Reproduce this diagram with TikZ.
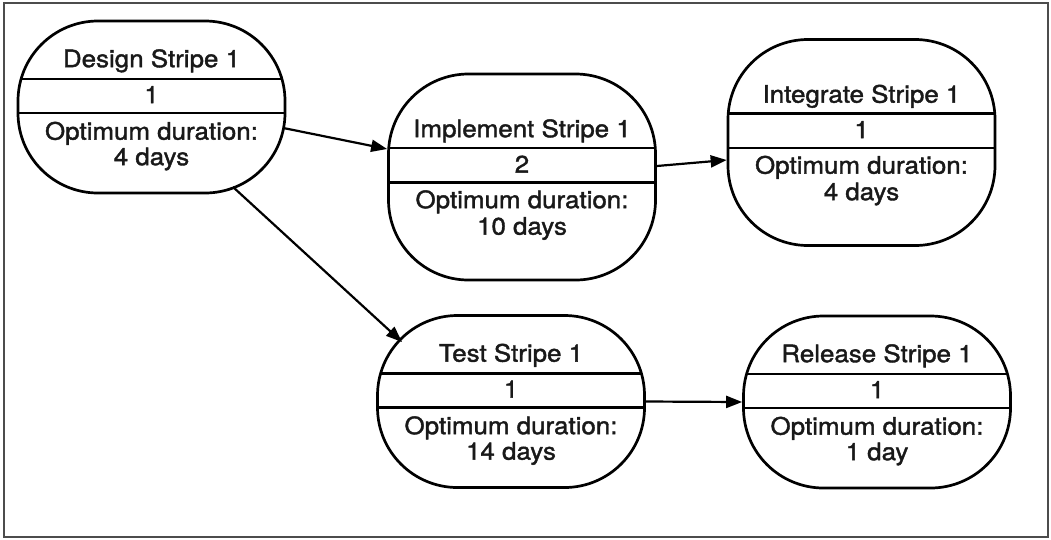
\documentclass[tikz,border=0pt]{standalone}
\usepackage{fontspec}
\setmainfont[FakeStretch=1.08,FakeBold=1.6]{TeX Gyre Heros}
\usetikzlibrary{arrows.meta}
\tikzset{
  frame/.style={draw=black!70, line width=1.3pt},
  box/.style={draw, line width=2.7pt, rounded corners=80pt, inner sep=0pt,
    minimum width=267pt},
  divider/.style={line width=2.4pt},
  shortbox/.style={box, minimum height=172pt,
    path picture={\draw[divider]
      ([yshift=-58pt]path picture bounding box.north west) -- ([yshift=-58pt]path picture bounding box.north east)
      ([yshift=-92pt]path picture bounding box.north west) -- ([yshift=-92pt]path picture bounding box.north east);}},
  tallbox/.style={box, minimum height=206pt,
    path picture={\draw[divider]
      ([yshift=-74pt]path picture bounding box.north west) -- ([yshift=-74pt]path picture bounding box.north east)
      ([yshift=-108.5pt]path picture bounding box.north west) -- ([yshift=-108.5pt]path picture bounding box.north east);}},
  lbl/.style={anchor=base, inner sep=0pt, text=black!90, font=\fontsize{24}{26}\selectfont},
  conn/.style={line width=2.2pt, -{Triangle[length=16pt,width=12pt]}},
}
\begin{document}
\begin{tikzpicture}[x=1pt,y=-1pt]
\useasboundingbox (0,0) rectangle (1051,539);
\draw[frame] (4,3) rectangle (1048,537);

% boxes
\node[shortbox] (design) at (151.5,107) {};
\node[tallbox] (implement) at (522,177) {};
\node[tallbox] (integrate) at (861.5,142.5) {};
\node[shortbox] (test) at (511,401.5) {};
\node[shortbox] (release) at (877,402) {};

% texts: short boxes
\node[lbl] (design1) at ([yshift=-47.5pt]design.north) {Design Stripe 1};
\node[lbl] (design2) at ([yshift=-83.5pt]design.north) {1};
\node[lbl] (design3) at ([yshift=-120pt]design.north) {Optimum duration:};
\node[lbl] (design4) at ([yshift=-145.5pt]design.north) {4 days};

\node[lbl] (test1) at ([yshift=-47.5pt]test.north) {Test Stripe 1};
\node[lbl] (test2) at ([yshift=-83.5pt]test.north) {1};
\node[lbl] (test3) at ([yshift=-120pt]test.north) {Optimum duration:};
\node[lbl] (test4) at ([yshift=-145.5pt]test.north) {14 days};

\node[lbl] (release1) at ([yshift=-47.5pt]release.north) {Release Stripe 1};
\node[lbl] (release2) at ([yshift=-83.5pt]release.north) {1};
\node[lbl] (release3) at ([yshift=-120pt]release.north) {Optimum duration:};
\node[lbl] (release4) at ([yshift=-145.5pt]release.north) {1 day};

% texts: tall boxes
\node[lbl] (implement1) at ([yshift=-64.5pt]implement.north) {Implement Stripe 1};
\node[lbl] (implement2) at ([yshift=-100pt]implement.north) {2};
\node[lbl] (implement3) at ([yshift=-135.5pt]implement.north) {Optimum duration:};
\node[lbl] (implement4) at ([yshift=-162pt]implement.north) {10 days};

\node[lbl] (integrate1) at ([yshift=-64.5pt]integrate.north) {Integrate Stripe 1};
\node[lbl] (integrate2) at ([yshift=-100pt]integrate.north) {1};
\node[lbl] (integrate3) at ([yshift=-135.5pt]integrate.north) {Optimum duration:};
\node[lbl] (integrate4) at ([yshift=-162pt]integrate.north) {4 days};

% connectors
\draw[conn] ([shift={(-3,21)}]design.east) -- ([shift={(0,-28)}]implement.west);
\draw[conn] ([shift={(81.5,80)}]design.center) -- ([shift={(-109,-59.5)}]test.center);
\draw[conn] ([shift={(0,-11)}]implement.east) -- ([shift={(0,17.5)}]integrate.west);
\draw[conn] (test.east) -- (release.west);
\end{tikzpicture}
\end{document}
